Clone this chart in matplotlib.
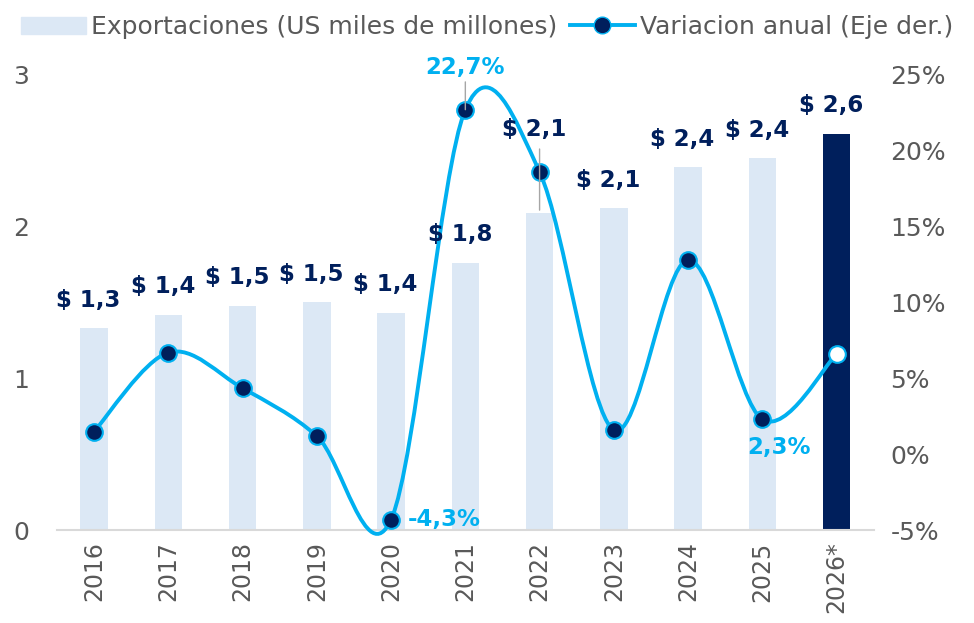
import numpy as np
import matplotlib.pyplot as plt
from matplotlib.path import Path
from matplotlib.patches import PathPatch, Patch
from matplotlib.lines import Line2D
from matplotlib.ticker import FuncFormatter

plt.rcParams['font.family'] = ['DejaVu Sans']

# data
years = ['2016', '2017', '2018', '2019', '2020', '2021', '2022', '2023', '2024', '2025', '2026*']
exports = [1.33, 1.42, 1.48, 1.50, 1.43, 1.76, 2.09, 2.12, 2.39, 2.45, 2.61]
export_labels = ['$ 1,3', '$ 1,4', '$ 1,5', '$ 1,5', '$ 1,4', '$ 1,8', '$ 2,1', '$ 2,1', '$ 2,4', '$ 2,4', '$ 2,6']
growth = [1.5, 6.7, 4.35, 1.2, -4.3, 22.7, 18.6, 1.6, 12.8, 2.3, 6.6]

light = '#DCE8F5'
navy = '#001F5C'
cyan = '#00B0F0'
grey = '#595959'

fig = plt.figure(figsize=(9.74, 6.23), dpi=100)
ax = fig.add_axes([0.0585, 0.149, 0.8385, 0.731])
ax2 = ax.twinx()

x = np.arange(len(years))
colors = [light] * (len(years) - 1) + [navy]
ax.bar(x, exports, width=0.37, color=colors, zorder=2)
ax.set_ylim(0, 3)
ax.set_xlim(-0.5, len(years) - 0.5)
ax.set_yticks([0, 1, 2, 3])
ax.set_xticks(x)
ax.set_xticklabels(years, rotation=90, fontsize=17, color=grey)
ax.tick_params(axis='both', length=0, labelcolor=grey)
ax.tick_params(axis='x', pad=8, labelsize=17)
ax.tick_params(axis='y', pad=20, labelsize=18)
for s in ['top', 'right', 'left']:
    ax.spines[s].set_visible(False)
ax.spines['bottom'].set_color('#D9D9D9')
ax.spines['bottom'].set_linewidth(1.5)

ax2.set_ylim(-5, 25)
ax2.set_yticks([-5, 0, 5, 10, 15, 20, 25])
ax2.yaxis.set_major_formatter(FuncFormatter(lambda v, p: f'{v:.0f}%'))
ax2.tick_params(axis='y', length=0, labelsize=18, labelcolor=grey, pad=12)
for s in ax2.spines.values():
    s.set_visible(False)

# smoothed line (Excel style bezier through the points)
pts = np.column_stack([x, growth]).astype(float)
verts = [pts[0]]
codes = [Path.MOVETO]
n = len(pts)
for i in range(n - 1):
    p0 = pts[i - 1] if i > 0 else pts[i]
    p1 = pts[i]
    p2 = pts[i + 1]
    p3 = pts[i + 2] if i + 2 < n else pts[i + 1]
    c1 = p1 + (p2 - p0) / 6
    c2 = p2 - (p3 - p1) / 6
    verts += [c1, c2, p2]
    codes += [Path.CURVE4] * 3
ax2.add_patch(PathPatch(Path(verts, codes), fill=False, edgecolor=cyan, lw=2.8,
                        zorder=3, clip_on=False))
ax2.plot(x[:-1], growth[:-1], 'o', ms=12, mfc=navy, mec=cyan, mew=1.5, zorder=4, clip_on=False)
ax2.plot(x[-1:], growth[-1:], 'o', ms=12, mfc='white', mec=cyan, mew=1.5, zorder=4)

# bar labels
for i, (v, lab) in enumerate(zip(exports, export_labels)):
    dy = 12
    if i == 6:
        dy = 52
        ax2.annotate('', xy=(i, v), xycoords=ax.transData, xytext=(0, 48),
                     textcoords='offset points',
                     arrowprops=dict(arrowstyle='-', color='#A6A6A6', lw=1), zorder=5)
    ax2.annotate(lab, xy=(i, v), xycoords=ax.transData, xytext=(-4, dy),
                 textcoords='offset points', ha='center', va='bottom',
                 fontsize=16.5, fontweight='bold', color=navy, zorder=6)

# growth labels
ax2.annotate('-4,3%', xy=(4, -4.3), xytext=(12, 0), textcoords='offset points',
             ha='left', va='center', fontsize=16.5, fontweight='bold', color=cyan, zorder=6)
ax2.annotate('22,7%', xy=(5, 22.7), xytext=(0, 22), textcoords='offset points',
             ha='center', va='bottom', fontsize=16.5, fontweight='bold', color=cyan, zorder=6,
             arrowprops=dict(arrowstyle='-', color='#A6A6A6', lw=1, shrinkA=0, shrinkB=0))
ax2.annotate('2,3%', xy=(9, 2.3), xytext=(12, -12), textcoords='offset points',
             ha='center', va='top', fontsize=16.5, fontweight='bold', color=cyan, zorder=6)

handles = [Patch(color=light), Line2D([], [], color=cyan, lw=2.8, marker='o', ms=12, mfc=navy, mec=cyan)]
fig.legend(handles, ['Exportaciones (US miles de millones)', 'Variacion anual (Eje der.)'],
           loc='upper center', bbox_to_anchor=(0.5, 1.012), ncol=2, frameon=False,
           fontsize=18, labelcolor=grey, handlelength=2.6, handletextpad=0.2, columnspacing=0.5)

fig.savefig('out.png', dpi=100)
